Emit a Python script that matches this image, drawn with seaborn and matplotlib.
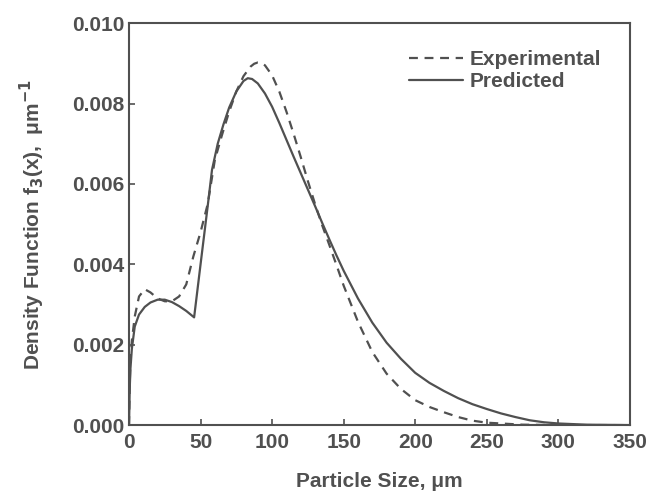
import numpy as np
import pandas as pd
import seaborn as sns
import matplotlib
matplotlib.use('Agg')
import matplotlib.pyplot as plt

# values
exp_x = [0, 0.5, 1, 2, 4, 7, 11, 15, 20, 25, 30, 35, 40, 45, 50, 55, 60, 65, 70,
    75, 80, 85, 87.5, 90, 92.5, 95, 100, 105, 110, 115, 120, 125, 130, 135, 140,
    145, 150, 160, 170, 180, 190, 200, 210, 220, 230, 240, 250, 275, 300, 350]
exp_y = [0.0, 0.0010, 0.0016, 0.0021, 0.0027, 0.0032, 0.00338, 0.00330, 0.00315,
    0.00308, 0.00308, 0.00320, 0.00350, 0.00420, 0.00480, 0.00550, 0.00660,
    0.00722, 0.00780, 0.00830, 0.00868, 0.00892, 0.00899, 0.00902, 0.00901,
    0.00895, 0.00870, 0.00830, 0.00780, 0.00725, 0.00667, 0.00607, 0.00550,
    0.00497, 0.00448, 0.00398, 0.00347, 0.00257, 0.00182, 0.00128, 0.00090,
    0.00062, 0.00045, 0.00032, 0.00020, 0.00011, 0.00006, 0.00001, 0.0, 0.0]

pred_x = [0, 0.5, 1, 2, 4, 7, 11, 15, 20, 25, 30, 35, 40, 45.5, 50, 55, 58, 62,
    66, 70, 75, 80, 83, 86, 90, 95, 100, 105, 110, 115, 120, 125, 130, 135, 140,
    145, 150, 160, 170, 180, 190, 200, 210, 220, 230, 240, 250, 260, 270, 280,
    290, 300, 320, 350]
pred_y = [0.0, 0.0009, 0.0014, 0.0019, 0.00245, 0.00275, 0.00294, 0.00305, 0.00312,
    0.00312, 0.00306, 0.00296, 0.00284, 0.00268, 0.00400, 0.00545, 0.00635,
    0.00700, 0.00748, 0.00790, 0.00830, 0.00856, 0.00863, 0.00861, 0.00850,
    0.00825, 0.00792, 0.00752, 0.00710, 0.00668, 0.00627, 0.00586, 0.00545,
    0.00503, 0.00462, 0.00422, 0.00384, 0.00315, 0.00255, 0.00205, 0.00165,
    0.00130, 0.00105, 0.00085, 0.00067, 0.00052, 0.00040, 0.00029, 0.00020,
    0.00012, 0.00007, 0.00004, 0.00001, 0.0]

x_ticks = [0, 50, 100, 150, 200, 250, 300, 350]
y_ticks = [0.000, 0.002, 0.004, 0.006, 0.008, 0.010]

data = pd.concat([
    pd.DataFrame({'size': exp_x, 'density': exp_y, 'Series': 'Experimental'}),
    pd.DataFrame({'size': pred_x, 'density': pred_y, 'Series': 'Predicted'}),
])

sns.set_style('ticks')
plt.rcParams['font.family'] = ['Liberation Sans', 'DejaVu Sans']
plt.rcParams['font.weight'] = 'bold'

grey = '#505050'

fig = plt.figure(figsize=(6.46, 4.92), dpi=100)
ax = fig.add_axes([0.1997, 0.136, 0.7753, 0.817])

sns.lineplot(data=data, x='size', y='density', hue='Series', style='Series',
    palette={'Experimental': grey, 'Predicted': grey},
    dashes={'Experimental': (4, 3), 'Predicted': ''},
    linewidth=1.6, sort=False, estimator=None, ax=ax)

ax.set_xlim(0, 350)
ax.set_ylim(0, 0.010)
ax.set_xticks(x_ticks)
ax.set_yticks(y_ticks)
ax.set_xticklabels([str(t) for t in x_ticks])
ax.set_yticklabels(['%.3f' % t for t in y_ticks])
ax.tick_params(direction='in', length=4, width=1.2, colors=grey,
    labelsize=15, pad=3)
ax.tick_params(axis='x', pad=6)
for lab in ax.get_xticklabels() + ax.get_yticklabels():
    lab.set_fontweight('bold')
for s in ax.spines.values():
    s.set_color(grey)
    s.set_linewidth(1.5)

ax.set_xlabel('Particle Size, \u03bcm', fontsize=15, fontweight='bold',
    color=grey, labelpad=14)
ax.set_ylabel('Density Function f$_\\mathbf{3}$(x),  \u03bcm$^{\\mathbf{-1}}$',
    fontsize=15, fontweight='bold', color=grey, labelpad=18)

handles, labels = ax.get_legend_handles_labels()
ax.legend(handles=handles, labels=labels, loc='upper right', frameon=False,
    bbox_to_anchor=(0.98, 0.98), handlelength=2.6, handletextpad=0.3,
    labelspacing=0.15, prop={'size': 15, 'weight': 'bold'}, labelcolor=grey)

fig.savefig('out.png', dpi=100)
